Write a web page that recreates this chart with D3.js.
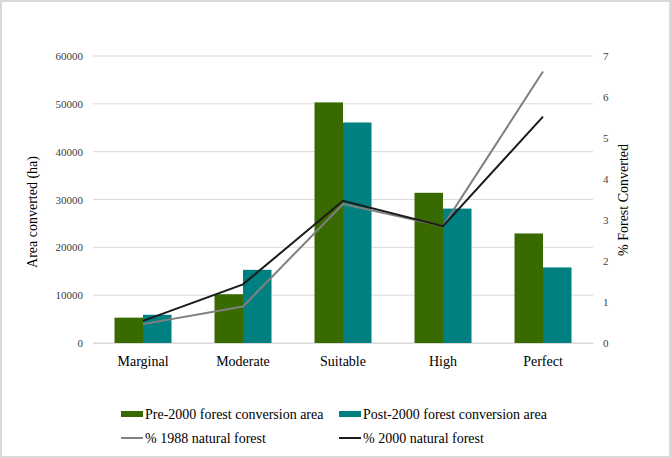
<!DOCTYPE html>
<html><head><meta charset="utf-8">
<script src="https://cdn.jsdelivr.net/npm/d3@7"></script>
<style>body{margin:0;background:#fff}svg{display:block}svg text{font-family:"Liberation Serif","Times New Roman",serif !important}</style>
</head><body><svg id="c" width="671" height="458"></svg>
<script>
const categories = ["Marginal","Moderate","Suitable","High","Perfect"];
const pre2000 = [5300, 10200, 50300, 31400, 22900];
const post2000 = [5900, 15300, 46100, 28100, 15800];
const pct1988 = [0.46, 0.89, 3.39, 2.85, 6.62];
const pct2000 = [0.54, 1.43, 3.47, 2.85, 5.52];
const leftTicks = [0,10000,20000,30000,40000,50000,60000];
const rightTicks = [0,1,2,3,4,5,6,7];
const seriesNames = ["Pre-2000 forest conversion area","Post-2000 forest conversion area","% 1988 natural forest","% 2000 natural forest"];

const FONT = "Liberation Serif, Times New Roman, serif";
const svg = d3.select("#c");
svg.append("rect").attr("x",1).attr("y",1).attr("width",669).attr("height",456).attr("fill","#fff").attr("stroke","#d9d9d9").attr("stroke-width",2);

const L=93, R=593, T=56, B=343;
const x = d3.scaleBand().domain(categories).range([L,R]).paddingInner(0).paddingOuter(0);
const yL = d3.scaleLinear().domain([0,60000]).range([B,T]);
const yR = d3.scaleLinear().domain([0,7]).range([B,T]);
const bw = 28.5;

// gridlines
svg.append("g").selectAll("line").data(leftTicks).join("line")
  .attr("x1",L).attr("x2",R).attr("y1",d=>yL(d)).attr("y2",d=>yL(d))
  .attr("stroke","#d9d9d9").attr("stroke-width",1);

// left axis labels
const gl = svg.append("g").attr("transform",`translate(${L},0)`)
  .call(d3.axisLeft(yL).tickValues(leftTicks).tickSize(0).tickPadding(10).tickFormat(d3.format("d")))
  .attr("font-family",FONT).attr("font-size",11);
gl.select(".domain").remove();
gl.selectAll("text").attr("fill","#404040");

const gr = svg.append("g").attr("transform",`translate(${R},0)`)
  .call(d3.axisRight(yR).tickValues(rightTicks).tickSize(0).tickPadding(10).tickFormat(d3.format("d")))
  .attr("font-family",FONT).attr("font-size",11);
gr.select(".domain").remove();
gr.selectAll("text").attr("fill","#404040");

// bars
const cx = d => x(d) + x.bandwidth()/2;
svg.append("g").selectAll("rect").data(categories).join("rect")
  .attr("x",d=>cx(d)-bw).attr("width",bw)
  .attr("y",(d,i)=>yL(pre2000[i])).attr("height",(d,i)=>B-yL(pre2000[i]))
  .attr("fill","#386a00");
svg.append("g").selectAll("rect").data(categories).join("rect")
  .attr("x",d=>cx(d)).attr("width",bw)
  .attr("y",(d,i)=>yL(post2000[i])).attr("height",(d,i)=>B-yL(post2000[i]))
  .attr("fill","#008080");

// category axis
const gx = svg.append("g").attr("transform",`translate(0,${B})`)
  .call(d3.axisBottom(x).tickSize(0).tickPadding(13))
  .attr("font-family",FONT).attr("font-size",14);
gx.select(".domain").attr("stroke","#d9d9d9");
gx.selectAll("text").attr("fill","#000");

// lines
const line = d3.line().x((d,i)=>cx(categories[i])).y(d=>yR(d));
svg.append("path").datum(pct1988).attr("d",line).attr("fill","none").attr("stroke","#808080").attr("stroke-width",2);
svg.append("path").datum(pct2000).attr("d",line).attr("fill","none").attr("stroke","#1a1a1a").attr("stroke-width",2);

// axis titles
svg.append("text").attr("transform","translate(37,212) rotate(-90)").attr("text-anchor","middle")
  .attr("font-family",FONT).attr("font-size",14).text("Area converted (ha)");
svg.append("text").attr("transform","translate(628,200) rotate(-90)").attr("text-anchor","middle")
  .attr("font-family",FONT).attr("font-size",14).text("% Forest Converted");

// legend
const leg = [
  {x:121,y:414,type:"rect",color:"#386a00",name:seriesNames[0]},
  {x:339,y:414,type:"rect",color:"#008080",name:seriesNames[1]},
  {x:121,y:438,type:"line",color:"#808080",name:seriesNames[2]},
  {x:339,y:438,type:"line",color:"#1a1a1a",name:seriesNames[3]}
];
const lg = svg.append("g").attr("font-family",FONT).selectAll("g").data(leg).join("g").attr("transform",d=>`translate(${d.x},${d.y})`);
lg.filter(d=>d.type==="rect").append("rect").attr("x",0).attr("y",-3).attr("width",22).attr("height",6).attr("fill",d=>d.color);
lg.filter(d=>d.type==="line").append("line").attr("x1",0).attr("x2",22).attr("y1",0).attr("y2",0).attr("stroke",d=>d.color).attr("stroke-width",2);
lg.append("text").attr("x",24).attr("y",5).attr("font-size",14).text(d=>d.name);
</script></body></html>
